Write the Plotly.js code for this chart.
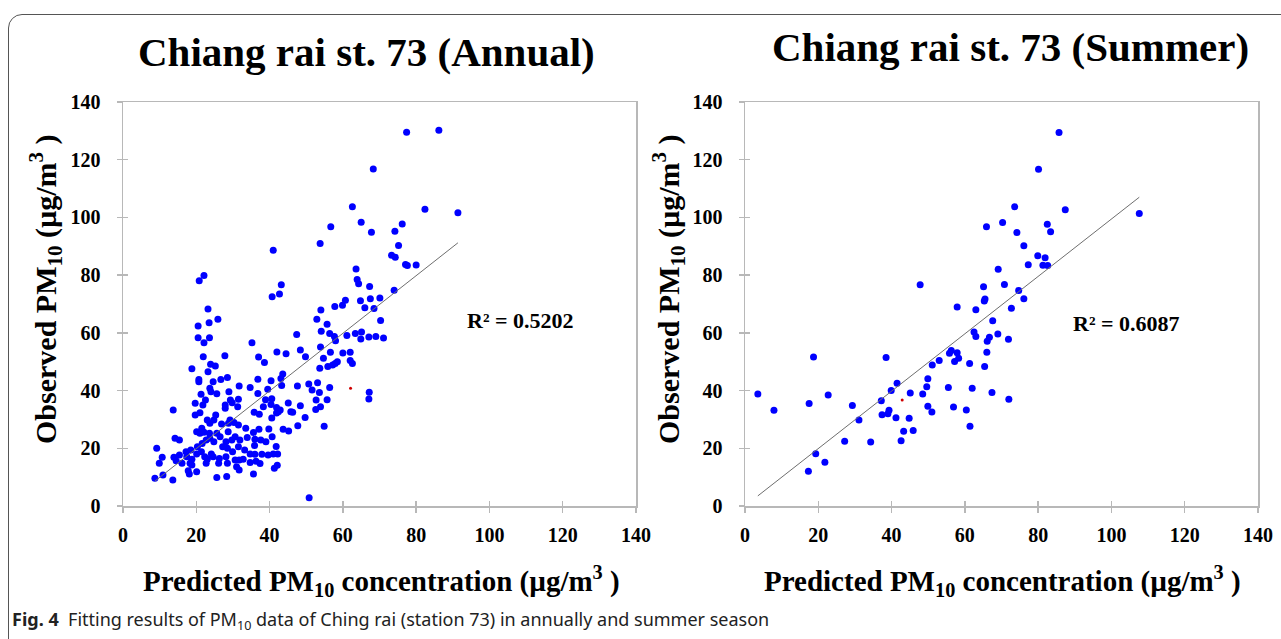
<!DOCTYPE html>
<html>
<head>
<meta charset="utf-8">
<script src="https://cdn.plot.ly/plotly-3.0.1.min.js"></script>
<style>
  html, body { margin: 0; padding: 0; background: #ffffff; }
  #wrap { position: relative; width: 1281px; height: 639px; overflow: hidden; background: #fff; }
  #frame { position: absolute; left: 8px; top: 14px; width: 1400px; height: 800px;
           border: 1.3px solid #555; border-radius: 14px; box-sizing: border-box; }
  #chart { position: absolute; left: 0; top: 0; width: 1281px; height: 639px; }
</style>
</head>
<body>
<div id="wrap">
  <div id="frame"></div>
  <div id="chart"></div>
</div>
<script>
// ---- Annual data (predicted, observed) ----
const annualPred = [
  41.0,22.1,20.8,43.2,42.7,40.7,23.2,
  68.3,62.6,65.0,56.7,76.2,67.8,74.2,53.8,75.2,73.3,74.3,77.1,77.6,80.0,63.6,63.9,64.3,67.3,74.0,60.7,59.9,57.8,64.8,67.5,70.1,66.0,68.5,54.0,
  77.4,86.2,82.4,91.4,
  70.3,61.1,63.4,65.1,64.9,67.1,69.0,71.1,60.0,62.0,62.0,62.6,67.2,67.1,
  52.9,55.7,47.4,54.1,56.4,57.7,58.0,35.2,42.0,44.5,48.4,53.9,56.6,37.0,38.6,49.8,54.7,53.7,55.9,57.9,58.5,57.2,
  43.6,43.1,36.8,40.4,43.3,47.6,50.7,53.1,51.6,53.6,56.4,39.5,34.7,36.8,38.9,40.6,52.7,55.7,45.1,48.4,52.6,53.9,
  38.3,40.4,41.9,42.4,41.9,45.8,46.3,42.9,35.8,37.2,40.6,49.7,47.7,54.9,33.5,35.6,37.1,39.8,43.7,45.2,
  33.9,36.0,37.6,40.7,39.0,41.8,35.9,33.2,34.7,36.0,37.9,39.6,41.0,42.2,32.8,34.7,36.3,37.4,42.1,41.3,35.6,50.8,
  25.9,23.5,20.5,20.5,23.6,22.1,27.8,21.9,23.9,25.2,18.8,23.2,20.7,20.7,24.6,26.7,28.5,23.7,24.0,21.3,25.6,28.9,31.7,
  29.3,29.8,31.5,31.3,22.5,21.8,19.7,27.9,27.9,13.7,25.3,19.7,21.0,29.2,28.8,30.3,31.5,
  14.2,15.4,9.2,17.2,18.5,20.3,21.6,22.7,23.7,21.0,22.1,23.6,25.6,26.5,24.8,27.2,28.1,28.5,
  10.7,9.9,13.9,14.5,15.4,16.1,17.4,18.8,20.1,21.4,18.3,18.8,22.3,23.0,22.7,24.1,24.6,26.3,26.1,28.1,28.5,
  29.9,30.6,31.0,31.7,31.7,8.7,10.9,13.6,17.8,18.1,20.1,25.6,28.3,
  26.9,24.8,23.0,23.7,20.1,21.5,28.7,30.6,31.9,29.7,31.5
];
const annualObs = [
  88.6,79.9,78.1,76.7,73.5,72.5,68.3,
  116.8,103.7,98.3,96.8,97.7,94.9,95.2,91.0,90.3,86.9,86.2,83.7,83.3,83.5,82.1,78.5,77.0,76.1,74.8,71.3,69.6,69.1,71.1,71.8,72.1,68.7,68.4,67.9,
  129.5,130.2,102.8,101.6,
  64.3,59.1,59.8,60.3,57.9,58.6,58.7,58.2,53.0,53.3,50.4,49.4,39.4,37.1,
  64.7,63.0,59.4,60.6,59.8,58.7,57.3,56.6,53.4,52.8,54.1,55.1,53.3,51.6,49.7,51.7,51.2,47.7,48.3,49.4,50.0,48.9,
  45.7,44.2,43.9,43.4,41.8,41.6,42.3,42.7,40.2,39.3,41.1,40.5,41.1,39.0,36.8,37.2,36.7,36.8,35.7,34.7,33.4,34.4,
  34.4,35.2,34.1,32.7,32.2,32.7,32.5,33.3,32.5,31.8,30.5,30.7,27.8,27.6,26.9,25.5,26.6,26.7,26.6,26.0,
  23.7,23.1,22.9,24.0,22.3,20.6,21.0,19.4,18.0,17.9,17.9,17.7,18.0,18.0,16.2,15.1,15.5,14.7,14.1,13.1,11.1,2.9,
  64.7,63.5,62.4,58.3,58.3,56.6,52.1,51.7,49.1,48.5,47.6,46.5,43.8,43.1,43.1,43.8,44.5,40.8,39.6,38.7,38.9,39.6,41.6,
  36.7,35.8,37.0,34.4,36.7,35.0,35.6,35.0,33.9,33.3,31.5,31.5,32.3,29.8,28.7,28.9,28.1,
  23.5,22.9,20.0,18.8,19.4,20.5,21.7,22.9,23.5,25.2,25.6,25.2,25.2,24.0,22.3,20.5,22.3,20.0,
  16.9,14.8,16.9,15.7,17.7,14.8,17.1,16.2,18.0,18.8,14.8,14.2,17.1,16.2,14.8,18.0,17.1,16.5,14.8,17.1,14.8,
  18.8,15.9,13.6,15.9,12.5,9.6,10.7,9.0,12.2,11.1,11.9,9.9,10.2,
  28.4,29.8,29.8,28.7,25.7,26.9,25.7,24.0,22.9,22.9,20.5
];
// ---- Summer data ----
const summerPred = [
  47.8,65.1,65.5,65.3,57.9,63.0,67.6,62.5,63.0,66.7,66.1,69.0,66.0,56.3,55.8,57.9,58.3,57.2,61.3,65.4,53.0,51.1,
  18.7,38.5,49.9,49.6,55.5,62.0,67.4,48.5,45.1,41.5,39.9,3.5,22.7,37.2,17.5,29.3,7.9,49.9,51.0,56.9,60.4,
  39.3,39.0,37.4,41.2,44.8,31.1,61.4,43.3,45.9,27.2,34.3,42.6,19.3,21.8,17.3,65.9,69.1,
  85.7,80.1,73.6,87.4,107.6,70.3,82.5,83.4,74.2,76.1,79.9,81.9,81.3,82.6,77.3,70.8,74.7,76.1,72.7,71.9,72.0
];
const summerObs = [
  76.7,76.0,71.7,71.0,69.0,68.0,64.2,60.3,58.7,58.5,57.1,59.6,53.3,53.9,52.9,53.1,51.2,50.1,49.4,48.3,50.4,48.9,
  51.6,51.5,44.1,41.3,41.1,40.8,39.3,38.8,39.2,42.5,40.0,38.8,38.5,36.5,35.5,34.8,33.2,34.6,32.6,34.3,33.3,
  33.2,32.0,31.6,30.6,30.4,29.8,27.6,25.9,26.2,22.4,22.2,22.6,18.1,15.2,12.0,96.8,82.0,
  129.4,116.7,103.7,102.7,101.4,98.2,97.6,95.0,94.8,90.2,86.7,86.0,83.4,83.3,83.6,76.8,74.7,71.8,68.5,57.8,37.0
];
// mean markers (small red dots)
const annualMeanX = [62.1], annualMeanY = [40.8];
const summerMeanX = [42.9], summerMeanY = [36.7];
// linear trend line end points
const annualFitX = [8.7, 91.4], annualFitY = [8.6, 91.2];
const summerFitX = [3.5, 107.6], summerFitY = [3.5, 107.0];
const tickVals = [0, 20, 40, 60, 80, 100, 120, 140];

const W = 1281, H = 639;
const px = v => v / W, py = v => 1 - v / H;
const serif = 'Liberation Serif, Times New Roman, serif';

const mk = {color: '#0000ff', size: 7, line: {width: 0}};
const traces = [
  {x: annualPred, y: annualObs, type: 'scatter', mode: 'markers', marker: mk, xaxis: 'x', yaxis: 'y'},
  {x: annualFitX, y: annualFitY, type: 'scatter', mode: 'lines', line: {color: '#6e6e6e', width: 1}, xaxis: 'x', yaxis: 'y'},
  {x: annualMeanX, y: annualMeanY, type: 'scatter', mode: 'markers', marker: {color: '#d00000', size: 3}, xaxis: 'x', yaxis: 'y'},
  {x: summerPred, y: summerObs, type: 'scatter', mode: 'markers', marker: mk, xaxis: 'x2', yaxis: 'y2'},
  {x: summerFitX, y: summerFitY, type: 'scatter', mode: 'lines', line: {color: '#6e6e6e', width: 1}, xaxis: 'x2', yaxis: 'y2'},
  {x: summerMeanX, y: summerMeanY, type: 'scatter', mode: 'markers', marker: {color: '#d00000', size: 3}, xaxis: 'x2', yaxis: 'y2'},
  {x: [], y: [], type: 'scatter', xaxis: 'x3', yaxis: 'y3'},
  {x: [], y: [], type: 'scatter', xaxis: 'x4', yaxis: 'y4'}
];

const axBase = {
  range: [0, 140], tickvals: tickVals, ticktext: tickVals.map(String),
  showgrid: false, zeroline: false, showline: true, linecolor: '#b8b8b8', linewidth: 1.5,
  mirror: true, ticks: 'outside', ticklen: 5, tickwidth: 1.3, tickcolor: '#b8b8b8',
  tickfont: {family: serif, size: 20, color: '#000', weight: 'bold'}, fixedrange: true
};
const overlayBase = {
  range: [0, 140], tickvals: tickVals, showgrid: false, zeroline: false, showline: false,
  ticks: 'inside', ticklen: 5, tickwidth: 1.3, tickcolor: '#b8b8b8', showticklabels: false
};
const dAx = [px(123), px(636)], dAx2 = [px(745), px(1258)], dY = [py(506), py(102)];

const layout = {
  width: W, height: H, margin: {l: 0, r: 0, t: 0, b: 0},
  paper_bgcolor: 'rgba(0,0,0,0)', plot_bgcolor: 'rgba(0,0,0,0)', showlegend: false,
  xaxis: Object.assign({}, axBase, {domain: dAx, anchor: 'y', ticklabelstandoff: 5}),
  yaxis: Object.assign({}, axBase, {domain: dY, anchor: 'x', ticklabelstandoff: 12}),
  xaxis2: Object.assign({}, axBase, {domain: dAx2, anchor: 'y2', ticklabelstandoff: 5}),
  yaxis2: Object.assign({}, axBase, {domain: dY, anchor: 'x2', ticklabelstandoff: 12}),
  xaxis3: Object.assign({}, overlayBase, {overlaying: 'x', anchor: 'y'}),
  yaxis3: Object.assign({}, overlayBase, {overlaying: 'y', anchor: 'x'}),
  xaxis4: Object.assign({}, overlayBase, {overlaying: 'x2', anchor: 'y2'}),
  yaxis4: Object.assign({}, overlayBase, {overlaying: 'y2', anchor: 'x2'}),
  annotations: [
    {text: 'Chiang rai st. 73 (Annual)', x: px(366), y: py(52), xref: 'paper', yref: 'paper', showarrow: false,
     xanchor: 'center', yanchor: 'middle', font: {family: serif, size: 41, color: '#000', weight: 'bold'}},
    {text: 'Chiang rai st. 73 (Summer)', x: px(1010), y: py(47), xref: 'paper', yref: 'paper', showarrow: false,
     xanchor: 'center', yanchor: 'middle', font: {family: serif, size: 41, color: '#000', weight: 'bold'}},
    {text: 'Predicted PM<sub>10</sub> concentration (µg/m<sup>3</sup> )', x: px(381), y: py(581), xref: 'paper', yref: 'paper',
     showarrow: false, xanchor: 'center', yanchor: 'middle', font: {family: serif, size: 29, color: '#000', weight: 'bold'}},
    {text: 'Predicted PM<sub>10</sub> concentration (µg/m<sup>3</sup> )', x: px(1002), y: py(581), xref: 'paper', yref: 'paper',
     showarrow: false, xanchor: 'center', yanchor: 'middle', font: {family: serif, size: 29, color: '#000', weight: 'bold'}},
    {text: 'Observed PM<sub>10</sub> (µg/m<sup>3</sup> )', x: px(45), y: py(289), xref: 'paper', yref: 'paper', textangle: -90,
     showarrow: false, xanchor: 'center', yanchor: 'middle', font: {family: serif, size: 30, color: '#000', weight: 'bold'}},
    {text: 'Observed PM<sub>10</sub> (µg/m<sup>3</sup> )', x: px(668), y: py(289), xref: 'paper', yref: 'paper', textangle: -90,
     showarrow: false, xanchor: 'center', yanchor: 'middle', font: {family: serif, size: 30, color: '#000', weight: 'bold'}},
    {text: 'R² = 0.5202', x: px(520), y: py(320), xref: 'paper', yref: 'paper', showarrow: false,
     xanchor: 'center', yanchor: 'middle', font: {family: serif, size: 22, color: '#000', weight: 'bold'}},
    {text: 'R² = 0.6087', x: px(1126), y: py(323), xref: 'paper', yref: 'paper', showarrow: false,
     xanchor: 'center', yanchor: 'middle', font: {family: serif, size: 22, color: '#000', weight: 'bold'}},
    {text: '<b>Fig. 4</b>  Fitting results of PM<sub>10</sub> data of Ching rai (station 73) in annually and summer season',
     x: px(10), y: py(620), xref: 'paper', yref: 'paper', showarrow: false, xanchor: 'left', yanchor: 'middle',
     font: {family: 'Noto Sans, Open Sans, sans-serif', size: 18, color: '#222'}}
  ]
};

Plotly.newPlot('chart', traces, layout, {staticPlot: true, displayModeBar: false});
</script>
</body>
</html>
